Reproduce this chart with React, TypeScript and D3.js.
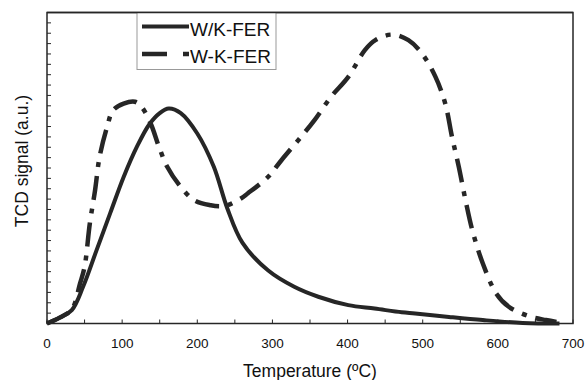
import React from 'react';
import * as d3 from 'd3';

// W/K-FER (solid line)
const wkTemp = [0, 17, 33, 48, 66, 84, 102, 120, 136, 150, 162, 178, 200, 222, 240, 260, 294, 329, 361, 401, 436, 472, 490, 535, 580, 633, 682];
const wkSignal = [0, 0.57, 1.29, 3.54, 7.08, 10.62, 14.13, 17.1, 19.2, 20.3, 20.75, 20.3, 18.33, 15.12, 11.1, 7.8, 5.13, 3.54, 2.58, 1.77, 1.44, 1.08, 0.96, 0.63, 0.33, 0.06, 0];

// W-K-FER (dash-dot line)
const wTemp = [0, 17, 33, 44, 50, 57, 64, 70, 80, 88, 102, 117, 126, 138, 149, 160, 178, 196, 218, 231, 240, 258, 267, 294, 312, 338, 356, 378, 401, 423, 437, 459, 481, 499, 517, 530, 539, 548, 557, 566, 580, 598, 615, 642, 664, 678];
const wSignal = [0, 0.57, 1.35, 3.87, 5.46, 9.66, 12.87, 16.08, 18.96, 20.58, 21.21, 21.39, 20.88, 19.29, 17.04, 15.12, 13.17, 11.88, 11.4, 11.31, 11.4, 12.06, 12.54, 14.13, 15.75, 18.0, 19.62, 21.87, 23.79, 26.37, 27.33, 27.87, 27.33, 26.04, 23.79, 21.21, 18.0, 15.12, 11.88, 9.0, 5.79, 2.88, 1.59, 0.69, 0.33, 0.15];

const xTickLabels = [0, 100, 200, 300, 400, 500, 600, 700];
const seriesNames = ['W/K-FER', 'W-K-FER'];

const W = 586;
const H = 380;
const left = 47, right = 573, top = 12.5, bottom = 323.5;
const ink = '#262626';
const font = 'Arial, "Liberation Sans", sans-serif';
const dashPattern = '24,9,5,9';

export default function App() {
  const x = d3.scaleLinear().domain([0, 700]).range([left, right]);
  const y = d3.scaleLinear().domain([0, 30]).range([bottom, top]);

  const line = d3.line<[number, number]>()
    .x(d => x(d[0]))
    .y(d => y(d[1]))
    .curve(d3.curveCatmullRom.alpha(0.5));

  const wkPath = line(wkTemp.map((t, i) => [t, wkSignal[i]] as [number, number])) || '';
  const wPath = line(wTemp.map((t, i) => [t, wSignal[i]] as [number, number])) || '';

  const xMinor = d3.range(0, 701, 50);
  const yMinor = d3.range(1, 30, 1);

  return (
    <svg width={W} height={H} style={{ position: 'absolute', left: 0, top: 0, background: '#fff' }}>
      <rect x={0} y={0} width={W} height={H} fill="#fff" />

      {/* minor ticks, pointing inward */}
      {xMinor.map(t => (
        <line key={'xt' + t} x1={x(t)} x2={x(t)} y1={bottom} y2={bottom - 4} stroke={ink} strokeWidth={1} />
      ))}
      {yMinor.map(v => (
        <line key={'yt' + v} x1={left} x2={left + 4} y1={y(v)} y2={y(v)} stroke={ink} strokeWidth={1} />
      ))}

      {/* curves */}
      <path d={wPath} fill="none" stroke={ink} strokeWidth={4.5} strokeDasharray={dashPattern} />
      <path d={wkPath} fill="none" stroke={ink} strokeWidth={4} strokeLinejoin="round" />

      {/* frame */}
      <rect x={left} y={top} width={right - left} height={bottom - top} fill="none" stroke={ink} strokeWidth={1.5} />

      {/* x tick labels */}
      {xTickLabels.map(t => (
        <text key={'xl' + t} x={x(t)} y={348} textAnchor="middle" fontFamily={font} fontSize={13.5} fill="#111">{t}</text>
      ))}

      <text x={(left + right) / 2} y={377} textAnchor="middle" fontFamily={font} fontSize={17.5} fill="#111">Temperature (ºC)</text>
      <text transform={`translate(28, 161) rotate(-90)`} textAnchor="middle" fontFamily={font} fontSize={17.5} fill="#111">TCD signal (a.u.)</text>

      {/* legend */}
      <g>
        <rect x={137} y={top} width={139} height={57} fill="#fff" stroke="#999" strokeWidth={1} />
        <line x1={left} x2={right} y1={top} y2={top} stroke={ink} strokeWidth={1.5} />
        <line x1={142} x2={189} y1={26.5} y2={26.5} stroke={ink} strokeWidth={4} />
        <text x={190} y={36} fontFamily={font} fontSize={19} fill="#111">{seriesNames[0]}</text>
        <line x1={142} x2={189} y1={54} y2={54} stroke={ink} strokeWidth={4.5} strokeDasharray="25,16,7,100" />
        <text x={190} y={63} fontFamily={font} fontSize={19} fill="#111">{seriesNames[1]}</text>
      </g>
    </svg>
  );
}
